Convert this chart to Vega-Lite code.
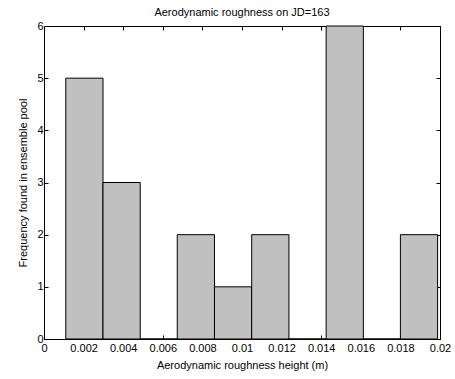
{
  "$schema": "https://vega.github.io/schema/vega-lite/v6.json",
  "autosize": "none",
  "width": 396,
  "height": 313,
  "padding": {"left": 44, "top": 26, "right": 15, "bottom": 40},
  "background": "white",
  "config": {
    "font": "Liberation Sans",
    "view": {"stroke": "black", "strokeWidth": 1},
    "axis": {"labelFont": "Liberation Sans", "titleFont": "Liberation Sans", "labelFontSize": 11, "titleFontSize": 11, "titleFontWeight": "normal", "labelColor": "black", "titleColor": "black", "domainColor": "black", "tickColor": "black", "grid": false}
  },
  "title": {"text": "Aerodynamic roughness on JD=163", "fontSize": 11, "fontWeight": "normal", "font": "Liberation Sans", "offset": 2, "color": "black"},
  "data": {"values": [
    {"lo": 0.0011, "hi": 0.00298, "count": 5},
    {"lo": 0.00298, "hi": 0.00486, "count": 3},
    {"lo": 0.00486, "hi": 0.00673, "count": 0},
    {"lo": 0.00673, "hi": 0.00861, "count": 2},
    {"lo": 0.00861, "hi": 0.01049, "count": 1},
    {"lo": 0.01049, "hi": 0.01237, "count": 2},
    {"lo": 0.01237, "hi": 0.01425, "count": 0},
    {"lo": 0.01425, "hi": 0.01613, "count": 6},
    {"lo": 0.01613, "hi": 0.018, "count": 0},
    {"lo": 0.018, "hi": 0.01988, "count": 2}
  ]},
  "layer": [
    {
      "mark": {"type": "rect", "fill": "#c0c0c0", "stroke": "black", "strokeWidth": 1},
      "encoding": {
        "x": {"field": "lo", "type": "quantitative", "scale": {"domain": [0, 0.02], "nice": false, "zero": false},
              "axis": {"orient": "bottom", "title": "Aerodynamic roughness height (m)", "values": [0, 0.002, 0.004, 0.006, 0.008, 0.01, 0.012, 0.014, 0.016, 0.018, 0.02], "format": "~g", "tickSize": -4, "labelPadding": 7, "titlePadding": 6, "domain": true, "labelFlush": false}},
        "x2": {"field": "hi"},
        "y": {"field": "count", "type": "quantitative", "scale": {"domain": [0, 6], "nice": false},
              "axis": {"orient": "left", "title": "Frequency found in ensemble pool", "values": [0, 1, 2, 3, 4, 5, 6], "tickSize": -4, "labelPadding": 5, "titlePadding": 8, "labelFlush": false}},
        "y2": {"datum": 0}
      }
    },
    {
      "mark": {"type": "rect", "opacity": 0},
      "encoding": {
        "x": {"field": "lo", "type": "quantitative",
              "axis": {"orient": "top", "title": null, "labels": false, "values": [0, 0.002, 0.004, 0.006, 0.008, 0.01, 0.012, 0.014, 0.016, 0.018, 0.02], "tickSize": -4}},
        "x2": {"field": "hi"},
        "y": {"field": "count", "type": "quantitative",
              "axis": {"orient": "right", "title": null, "labels": false, "values": [0, 1, 2, 3, 4, 5, 6], "tickSize": -4}},
        "y2": {"datum": 0}
      }
    }
  ],
  "resolve": {"axis": {"x": "independent", "y": "independent"}}
}
